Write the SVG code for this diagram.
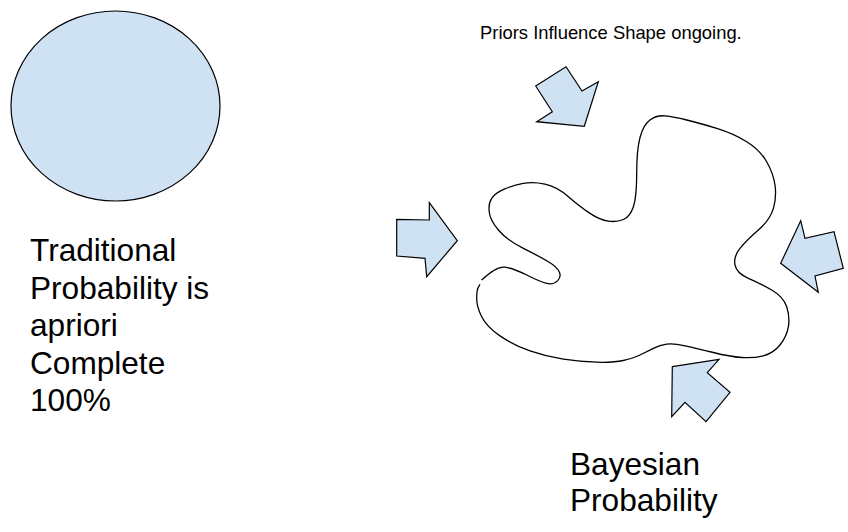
<svg xmlns="http://www.w3.org/2000/svg" width="848" height="532" viewBox="0 0 848 532">
<style>
.shape{fill:#cfe2f3;stroke:#000;stroke-width:1.2;stroke-linejoin:miter}
.blob{fill:none;stroke:#000;stroke-width:1.3}
.big{font-family:"Liberation Sans",Arial,sans-serif;font-size:31.6px;fill:#000}
.small{font-family:"Liberation Sans",Arial,sans-serif;font-size:18.4px;fill:#000}
</style>
<rect width="848" height="532" fill="#fff"/>
<g id="circle">
<ellipse class="shape" cx="115.5" cy="106" rx="104.5" ry="95"/>
</g>
<g id="traditional-label">
<text class="big" x="30" y="261">Traditional</text>
<text class="big" x="30" y="298.5">Probability is</text>
<text class="big" x="30" y="336">apriori</text>
<text class="big" x="30" y="373.5">Complete</text>
<text class="big" x="30" y="411">100%</text>
</g>
<g id="priors-label">
<text class="small" x="480" y="39">Priors Influence Shape ongoing.</text>
</g>
<g id="blob">
<path class="blob" d="M481.7,280 Q496.7,266 505,267.2 Q513.3,268.3 526.7,275 Q540,281.7 546.7,283.4 Q553.3,285 557.5,280.9 Q561.7,276.7 559.2,271.7 Q556.7,266.7 548.4,261.7 Q540,256.7 523.4,248.4 Q506.7,240 498.4,230 Q490,220 489.2,211.7 Q488.3,203.3 491.7,198.3 Q495,193.3 504.2,189.2 Q513.3,185 523.3,183.4 Q533.3,181.7 545,184.2 Q556.7,186.7 568.4,196.7 Q580,206.7 590,213.4 Q600,220 608.4,221.2 Q616.7,222.3 623.4,219.5 Q630,216.7 633.4,206.7 Q636.7,196.7 636.7,173.4 Q636.7,150 640,137.5 Q643.3,125 650,120 Q656.7,115 665,115.9 Q673.3,116.7 686.7,120 Q700,123.3 716.7,128.3 Q733.3,133.3 746.7,141.7 Q760,150 766.7,161.7 Q773.3,173.3 775,185 Q776.7,196.7 773.4,208.4 Q770,220 758.4,230 Q746.7,240 740,248.4 Q733.3,256.7 735,265 Q736.7,273.3 748.4,278.3 Q760,283.3 771.7,290 Q783.3,296.7 786.7,306.7 Q790,316.7 788.4,326.7 Q786.7,336.7 780,345 Q773.3,353.3 763.3,355.8 Q753.3,358.3 741.7,357.5 Q730,356.7 713.4,352.5 Q696.7,348.3 685,345.8 Q673.3,343.3 666.7,344.2 Q660,345 653.4,348.4 Q646.7,351.7 640,355 Q633.3,358.3 623.3,360.5 Q613.3,362.7 596.7,362.2 Q580,361.7 563.4,359.2 Q546.7,356.7 530,350.9 Q513.3,345 500,335.9 Q486.7,326.7 481.7,316.7 Q476.7,306.7 476.7,298.4 Q476.7,290 478.4,287.2 L480,284.3"/>
</g>
<g id="arrow-top">
<polygon class="shape" points="535.7,86 566,66.7 582,91 598.3,81.7 584.3,126.3 536.7,121.7 552.3,111.7"/>
</g>
<g id="arrow-left">
<polygon class="shape" points="396.7,219.3 429.3,220 429.3,202.7 457.3,240.7 426.7,276.7 425,258.3 396.7,256"/>
</g>
<g id="arrow-right">
<polygon class="shape" points="800.7,220.7 805,238.3 834,231.7 843.3,268.3 815,276 818.3,292.3 780.7,263.3"/>
</g>
<g id="arrow-bottom">
<polygon class="shape" points="672.3,366.7 719,359.3 707.3,372.7 730,392.3 706,421.7 685,402.3 671.7,416.7"/>
</g>
<g id="bayesian-label">
<text class="big" x="570" y="475">Bayesian</text>
<text class="big" x="570" y="511">Probability</text>
</g>
</svg>
